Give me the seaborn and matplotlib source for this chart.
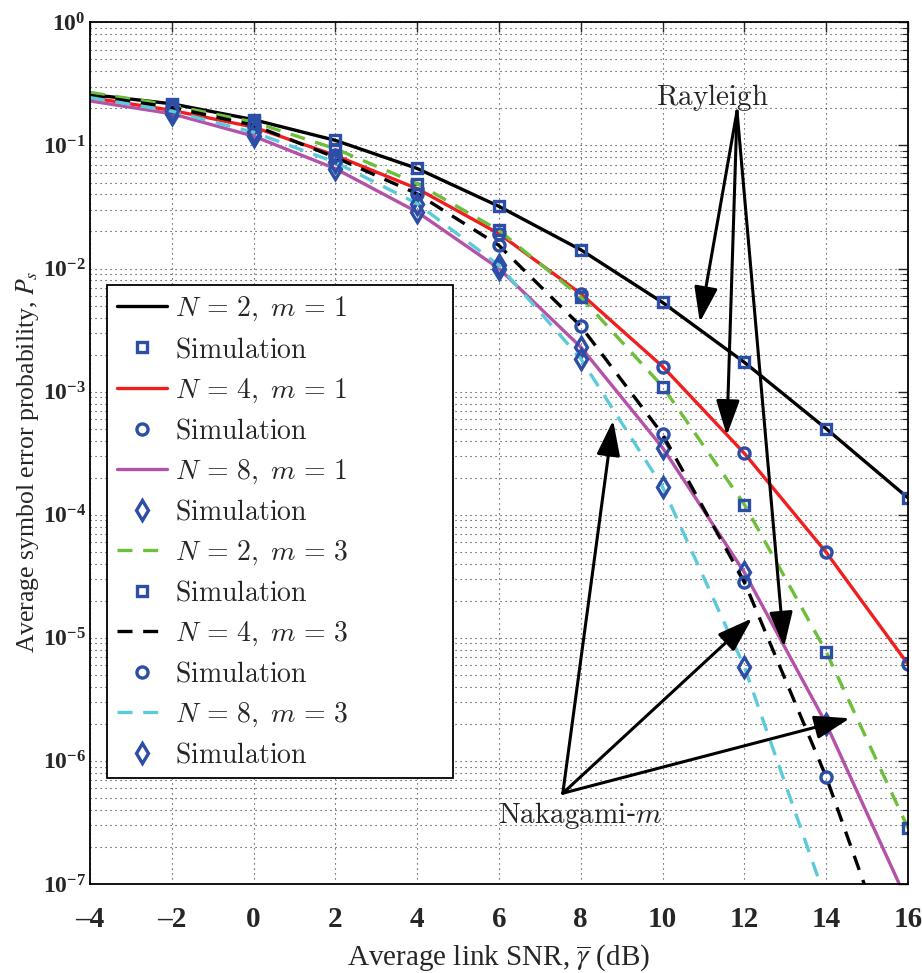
import numpy as np
import pandas as pd
import matplotlib
matplotlib.use("Agg")
import matplotlib.pyplot as plt
from matplotlib.font_manager import FontProperties
import seaborn as sns

sns.set_style("white")
plt.rcParams["font.family"] = ["Liberation Serif", "DejaVu Serif"]
plt.rcParams["mathtext.fontset"] = "custom"
plt.rcParams["mathtext.rm"] = "Liberation Serif"
plt.rcParams["mathtext.it"] = "Liberation Serif:italic"
plt.rcParams["mathtext.bf"] = "Liberation Serif:bold"

# ---------------- data ----------------
snr = [-4, -2, 0, 2, 4, 6, 8, 10, 12, 14, 16]
ps_N2_m1 = [0.26, 0.218, 0.162, 0.11, 0.065, 0.032, 0.0142, 0.0053, 0.00173, 5.0e-4, 1.37e-4]
ps_N4_m1 = [0.245, 0.193, 0.141, 0.083, 0.0446, 0.0192, 0.00625, 0.0016, 3.15e-4, 4.95e-5, 6.1e-6]
ps_N8_m1 = [0.23, 0.181, 0.119, 0.0648, 0.0288, 0.0100, 0.0023, 3.5e-4, 3.4e-5, 2.0e-6, 7e-8]
ps_N2_m3 = [0.27, 0.212, 0.155, 0.094, 0.049, 0.0204, 0.00587, 0.0011, 1.21e-4, 7.7e-6, 2.85e-7]
ps_N4_m3 = [0.255, 0.204, 0.146, 0.080, 0.0405, 0.0154, 0.0034, 4.5e-4, 2.84e-5, 7.4e-7, 1e-8]
ps_N8_m3 = [0.245, 0.19, 0.128, 0.073, 0.0337, 0.0106, 0.00185, 1.68e-4, 5.8e-6, 7.3e-8, np.nan]

sim_snr = [-2, 0, 2, 4, 6, 8, 10, 12, 14, 16]
sim_N2_m1 = [0.218, 0.162, 0.11, 0.065, 0.032, 0.0142, 0.0053, 0.00173, 5.0e-4, 1.37e-4]
sim_N4_m1 = [0.193, 0.141, 0.083, 0.0446, 0.0192, 0.00625, 0.0016, 3.15e-4, 4.95e-5, 6.1e-6]
sim_N8_m1 = [0.181, 0.119, 0.0648, 0.0288, 0.0100, 0.0023, 3.5e-4, 3.4e-5, 2.0e-6, np.nan]
sim_N2_m3 = [0.212, 0.155, 0.094, 0.049, 0.0204, 0.00587, 0.0011, 1.21e-4, 7.7e-6, 2.85e-7]
sim_N4_m3 = [0.204, 0.146, 0.080, 0.0405, 0.0154, 0.0034, 4.5e-4, 2.84e-5, 7.4e-7, np.nan]
sim_N8_m3 = [0.19, 0.128, 0.073, 0.0337, 0.0106, 0.00185, 1.68e-4, 5.8e-6, np.nan, np.nan]

series_labels = [r"$N\,=\,2,\;m\,=\,1$", r"$N\,=\,4,\;m\,=\,1$", r"$N\,=\,8,\;m\,=\,1$",
                 r"$N\,=\,2,\;m\,=\,3$", r"$N\,=\,4,\;m\,=\,3$", r"$N\,=\,8,\;m\,=\,3$"]
sim_label = r"$\mathrm{Simulation}$"

x_ticks = [-4, -2, 0, 2, 4, 6, 8, 10, 12, 14, 16]
x_tick_labels = ["\u20134", "\u20132", "0", "2", "4", "6", "8", "10", "12", "14", "16"]
y_ticks = [1e-7, 1e-6, 1e-5, 1e-4, 1e-3, 1e-2, 1e-1, 1e0]
y_tick_labels = [r"$\mathbf{10^{-7}}$", r"$\mathbf{10^{-6}}$", r"$\mathbf{10^{-5}}$",
                 r"$\mathbf{10^{-4}}$", r"$\mathbf{10^{-3}}$", r"$\mathbf{10^{-2}}$",
                 r"$\mathbf{10^{-1}}$", r"$\mathbf{10^{0}}$"]

# ---------------- figure ----------------
fig = plt.figure(figsize=(9.22, 9.73), dpi=100)
ax = fig.add_axes([0.0976, 0.0915, 0.8872, 0.8855])
ax.set_yscale("log")

curves = [ps_N2_m1, ps_N4_m1, ps_N8_m1, ps_N2_m3, ps_N4_m3, ps_N8_m3]
sims = [sim_N2_m1, sim_N4_m1, sim_N8_m1, sim_N2_m3, sim_N4_m3, sim_N8_m3]
colors = ["#000000", "#f01e1e", "#b452a8", "#6cbf3a", "#000000", "#5ccbd9"]
styles = ["-", "-", "-", "--", "--", "--"]
markers = ["s", "o", "d", "s", "o", "d"]
msizes = [6.5, 8, 10, 6.5, 8, 10]
simcol = "#2d4ea6"

handles = []
for vals, sv, c, ls, mk, ms, lab in zip(curves, sims, colors, styles, markers, msizes, series_labels):
    df = pd.DataFrame({"x": snr, "y": vals}).dropna()
    sns.lineplot(data=df, x="x", y="y", ax=ax, color=c, linewidth=2.4,
                 linestyle=ls, label=lab, legend=False, errorbar=None,
                 sort=False)
    ln = ax.get_lines()[-1]
    if ls == "--":
        ln.set_dashes((4.5, 3.2))
    handles.append(ln)
    dfs = pd.DataFrame({"x": sim_snr, "y": sv}).dropna()
    sns.lineplot(data=dfs, x="x", y="y", ax=ax, color=simcol, linestyle="",
                 marker=mk, markersize=ms, markerfacecolor="none",
                 markeredgecolor=simcol, markeredgewidth=2.4,
                 label=sim_label, legend=False, errorbar=None, sort=False)
    handles.append(ax.get_lines()[-1])

ax.set_xlim(-4, 16)
ax.set_ylim(1e-7, 1)

ax.set_xticks(x_ticks)
ax.set_xticklabels(x_tick_labels, fontproperties=FontProperties(family="Liberation Serif", weight="bold", size=21))
ax.set_yticks(y_ticks)
ax.set_yticklabels(y_tick_labels, fontproperties=FontProperties(family="Liberation Serif", weight="bold", size=17))
ax.yaxis.set_minor_locator(matplotlib.ticker.LogLocator(base=10, subs=np.arange(2, 10), numticks=20))
ax.yaxis.set_minor_formatter(matplotlib.ticker.NullFormatter())
ax.tick_params(which="both", direction="in", top=True, right=True)
ax.tick_params(which="major", length=7, width=1)
ax.tick_params(which="minor", length=4, width=0.8)
ax.tick_params(axis="x", pad=16)
ax.tick_params(axis="y", pad=3)

ax.grid(True, which="major", axis="both", linestyle=(0, (1, 3.5)), color="#333333", linewidth=0.8)
ax.grid(True, which="minor", axis="y", linestyle=(0, (1, 3.5)), color="#333333", linewidth=0.8)
for s in ax.spines.values():
    s.set_color("black")
    s.set_linewidth(1.3)

ax.set_xlabel(r"Average link SNR, $\overline{\gamma}$ (dB)",
              fontproperties=FontProperties(family="Liberation Serif", size=21, math_fontfamily="stix"))
ax.xaxis.set_label_coords(0.5, -0.068)
ax.set_ylabel(r"Average symbol error probability, $P_s$",
              fontproperties=FontProperties(family="Liberation Serif", size=18.5, math_fontfamily="stix"))
ax.yaxis.set_label_coords(-0.06, 0.49)

legfp = FontProperties(family="DejaVu Serif", size=20, math_fontfamily="cm")
leg_w = 0.423
leg_h = 0.572
leg = ax.legend(handles=handles, labels=[h.get_label() for h in handles],
                loc="upper left", bbox_to_anchor=(0.0208, 0.695 - leg_h, leg_w, leg_h),
                mode="expand", borderaxespad=0,
                prop=legfp, frameon=True, fancybox=False, edgecolor="black",
                framealpha=1, handlelength=1.8, handletextpad=0.3,
                labelspacing=0.46, borderpad=0.35, numpoints=1)
leg.get_frame().set_linewidth(1.3)

# ---------------- annotations ----------------
annfp = FontProperties(family="DejaVu Serif", size=21, math_fontfamily="cm")
ax.text(11.21, 0.246, r"$\mathrm{Rayleigh}$", fontproperties=annfp, ha="center", va="center")
ax.text(7.98, 3.6e-7, r"$\mathrm{Nakagami}$-$m$", fontproperties=annfp, ha="center", va="center")

arrow_kw = dict(arrowstyle="-|>,head_length=0.9,head_width=0.3", mutation_scale=24,
                lw=2.2, color="black", shrinkA=0, shrinkB=0)
ray_base = (11.82, 0.19)
for tip in [(10.91, 3.66e-3), (11.57, 4.4e-4), (12.97, 8.4e-6)]:
    ax.annotate("", xy=tip, xytext=ray_base, arrowprops=arrow_kw)
nak_base = (7.56, 5.46e-7)
for tip in [(8.79, 5.85e-4), (12.19, 1.44e-5), (14.58, 2.22e-6)]:
    ax.annotate("", xy=tip, xytext=nak_base, arrowprops=arrow_kw)

fig.savefig("out.png", dpi=100)
